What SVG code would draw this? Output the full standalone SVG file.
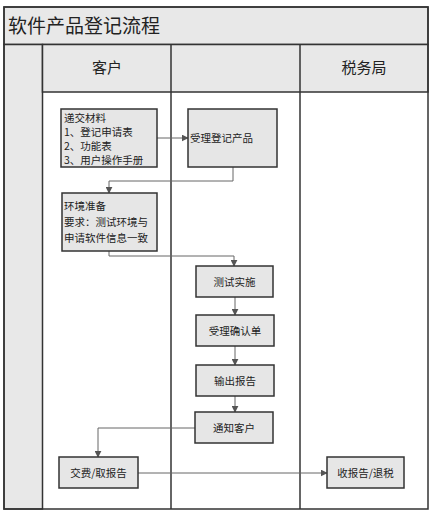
<svg xmlns="http://www.w3.org/2000/svg" width="435" height="513" viewBox="0 0 435 513">
<style>
.frame{fill:none;stroke:#333;stroke-width:1.5}
.band{fill:#e8e8e8;stroke:#333;stroke-width:1.5}
.box{fill:#e6e6e6;stroke:#333;stroke-width:1.5}
.t{font-family:"Noto Sans CJK SC","Liberation Serif",serif;fill:#222}
.bt{font-family:"Noto Sans CJK SC","Liberation Serif",serif;font-size:10.5px;fill:#222}
.c{fill:none;stroke:#666;stroke-width:1}
</style>
<defs>
<marker id="ah" viewBox="0 0 10 10" refX="9" refY="5" markerWidth="7" markerHeight="7" orient="auto" markerUnits="userSpaceOnUse">
<path d="M0,0 L10,5 L0,10 z" fill="#555"/>
</marker>
</defs>
<rect width="435" height="513" fill="#fff"/>
<g id="pool">
<rect class="band" x="4" y="7" width="424" height="37.5"/>
<text class="t" x="8" y="33" font-size="19">软件产品登记流程</text>
<rect class="band" x="4" y="44.5" width="38.5" height="464.5"/>
<rect class="band" x="42.5" y="44.5" width="385.5" height="47.5"/>
<line class="frame" x1="171" y1="44.5" x2="171" y2="509"/>
<line class="frame" x1="300" y1="44.5" x2="300" y2="509"/>
<rect class="frame" x="4" y="7" width="424" height="502"/>
<text class="t" x="107" y="73" font-size="15" text-anchor="middle">客户</text>
<text class="t" x="364" y="73" font-size="15" text-anchor="middle">税务局</text>
</g>
<g id="connectors">
<line class="c" x1="157" y1="138" x2="188" y2="138" marker-end="url(#ah)"/>
<polyline class="c" points="233,167 233,181 109,181 109,193" marker-end="url(#ah)"/>
<polyline class="c" points="109,251 109,256 234,256 234,266" marker-end="url(#ah)"/>
<line class="c" x1="235" y1="297" x2="235" y2="315" marker-end="url(#ah)"/>
<line class="c" x1="235" y1="346" x2="235" y2="365" marker-end="url(#ah)"/>
<line class="c" x1="235" y1="396" x2="235" y2="412" marker-end="url(#ah)"/>
<polyline class="c" points="195,428 98,428 98,457" marker-end="url(#ah)"/>
<line class="c" x1="138" y1="473" x2="327" y2="473" marker-end="url(#ah)"/>
</g>
<g id="n1">
<rect class="box" x="61" y="109" width="96" height="58"/>
<text class="bt" x="64" y="122">递交材料</text>
<text class="bt" x="64" y="136">1、登记申请表</text>
<text class="bt" x="64" y="150">2、功能表</text>
<text class="bt" x="64" y="164">3、用户操作手册</text>
</g>
<g id="n2">
<rect class="box" x="188" y="109" width="89" height="58"/>
<text class="bt" x="190" y="142">受理登记产品</text>
</g>
<g id="n3">
<rect class="box" x="62" y="193" width="95" height="58"/>
<text class="bt" x="64" y="210">环境准备</text>
<text class="bt" x="64" y="226">要求：测试环境与</text>
<text class="bt" x="64" y="242">申请软件信息一致</text>
</g>
<g id="n4">
<rect class="box" x="196" y="266" width="77" height="31"/>
<text class="bt" x="234.5" y="285.5" text-anchor="middle">测试实施</text>
</g>
<g id="n5">
<rect class="box" x="196" y="315" width="78" height="31"/>
<text class="bt" x="235" y="334.5" text-anchor="middle">受理确认单</text>
</g>
<g id="n6">
<rect class="box" x="196" y="365" width="78" height="31"/>
<text class="bt" x="235" y="384.5" text-anchor="middle">输出报告</text>
</g>
<g id="n7">
<rect class="box" x="195" y="412" width="78" height="31"/>
<text class="bt" x="234" y="431.5" text-anchor="middle">通知客户</text>
</g>
<g id="n8">
<rect class="box" x="59" y="457" width="79" height="31"/>
<text class="bt" x="98.5" y="476.5" text-anchor="middle">交费/取报告</text>
</g>
<g id="n9">
<rect class="box" x="327" y="457" width="77" height="31"/>
<text class="bt" x="365.5" y="476.5" text-anchor="middle">收报告/退税</text>
</g>
</svg>
